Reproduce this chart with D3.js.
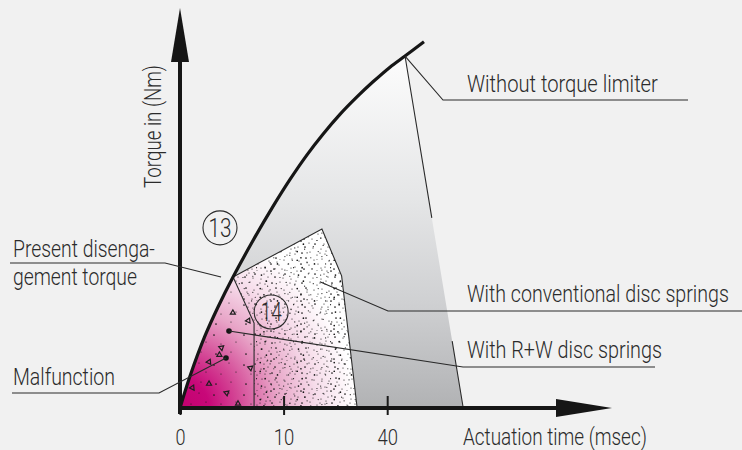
<!DOCTYPE html>
<html>
<head>
<meta charset="utf-8">
<script src="https://cdn.jsdelivr.net/npm/d3@7"></script>
<style>
body { margin: 0; background: #f1f1f1; }
svg { display: block; }
text { font-family: Roboto, "Liberation Sans", sans-serif; font-weight: 300; fill: #2b2b2b; }
</style>
</head>
<body>
<svg></svg>
<script>
let width = 742
let height = 450

// x axis is schematic: ticks are evenly spaced although they read 0, 10, 40
let tickValues = [0, 10, 20]
let tickLabels = ['0', '10', '40']

// torque curve without limiter (x = time units, y = relative torque)
let curvePoints = [
    [0, 0], [0.97, 8.06], [2.41, 18.15], [3.67, 25.45], [5.12, 33.0],
    [7.05, 42.2], [8.98, 50.8], [10.62, 57.6], [12.26, 63.8], [13.8, 69.0],
    [15.44, 74.0], [17.08, 78.4], [18.63, 82.2], [20.27, 85.9], [21.72, 88.7],
    [23.55, 92.3]
]
let meetIndex = 4   // present disengagement torque
let peakIndex = 14  // peak without torque limiter
let limiterBase = [27.34, 0]
let conventionalPoints = [[13.7, 45.1], [15.6, 33.3], [17.1, 0]]
let rwPoints = [[7.15, 21.4], [7.15, 0]]
let markerDots = [[4.73, 19.4], [4.44, 12.6]]
let triangles = [
    [5.1, 24.0], [6.6, 22.0], [4.0, 15.2], [3.8, 13.4], [2.8, 11.6],
    [6.8, 10.1], [2.8, 6.1], [1.2, 5.1], [4.5, 3.8], [5.6, 1.1]
]
let circleLabels = ['13', '14']
let circleCenters = [[3.86, 45.4], [8.8, 24.2]]
let annotationTexts = ['Without torque limiter', 'With conventional disc springs',
    'With R+W disc springs', 'Malfunction', 'Present disenga-|gement torque']
let annotationAnchors = [curvePoints[peakIndex], [13.5, 31.8], markerDots[0], markerDots[1], [3.96, 33.0]]

// speckle texture tile (used at two tile sizes so the repeat is less visible)
let speckle = [[1, 1], [9, 3], [17, 0], [24, 4], [5, 7], [13, 8], [21, 9], [28, 7],
    [2, 13], [10, 12], [17, 15], [25, 14], [6, 18], [14, 20], [22, 19], [29, 21],
    [1, 24], [9, 25], [18, 24], [25, 27], [4, 29], [12, 29], [21, 28], [27, 1],
    [15, 4], [7, 22], [26, 11], [20, 13]]
let sparse = [[4, 5], [19, 3], [11, 14], [26, 12], [6, 24], [21, 22]]

let svg = d3.select('svg')
    .attr('width', width)
    .attr('height', height)

let x = d3.scaleLinear().domain([0, 41.7]).range([180, 612])
let y = d3.scaleLinear().domain([0, 100.8]).range([408, 8])
let px = d => x(d[0]) + ',' + y(d[1])
let line = d3.line()
    .x(d => x(d[0]))
    .y(d => y(d[1]))
    .curve(d3.curveCatmullRom.alpha(0.5))

svg.append('rect').attr('width', width).attr('height', height).attr('fill', '#f1f1f1')

let defs = svg.append('defs')
let grayGrad = defs.append('linearGradient').attr('id', 'gray')
    .attr('gradientUnits', 'userSpaceOnUse')
    .attr('x1', 0).attr('x2', 0).attr('y1', y(88)).attr('y2', y(0))
grayGrad.selectAll('stop')
    .data([[0, '#fcfcfc'], [0.4, '#e5e6e7'], [0.7, '#cfd0d2'], [1, '#b1b2b4']]).enter()
    .append('stop').attr('offset', d => d[0]).attr('stop-color', d => d[1])
let pinkGrad = defs.append('radialGradient').attr('id', 'pink')
    .attr('gradientUnits', 'userSpaceOnUse')
    .attr('cx', x(0)).attr('cy', y(0)).attr('r', 195)
pinkGrad.selectAll('stop')
    .data([[0, '#c2006e'], [0.15, '#c80879'], [0.3, '#d44896'], [0.5, '#e8a4c7'], [0.7, '#f6dcea'], [0.9, '#ffffff']]).enter()
    .append('stop').attr('offset', d => d[0]).attr('stop-color', d => d[1])

function addPattern(id, dots, size) {
    let k = size / 30
    let p = defs.append('pattern').attr('id', id)
        .attr('patternUnits', 'userSpaceOnUse')
        .attr('width', size).attr('height', size)
    p.selectAll('circle').data(dots).enter()
        .append('circle')
        .attr('cx', d => d[0] * k).attr('cy', d => d[1] * k)
        .attr('r', (d, i) => i % 4 === 0 ? 0.85 : 0.6)
        .attr('fill', '#1a1a1a')
}
addPattern('speckleA', speckle, 30)
addPattern('speckleB', speckle, 37)
addPattern('sparse', sparse, 30)

let toMeet = curvePoints.slice(0, meetIndex + 1)
let meet = curvePoints[meetIndex]
let peak = curvePoints[peakIndex]

// region without torque limiter
svg.append('path')
    .attr('d', line(curvePoints.slice(0, peakIndex + 1)) + 'L' + px(limiterBase) + 'Z')
    .attr('fill', 'url(#gray)')

// conventional disc springs region
let convPath = line(toMeet) + 'L' + conventionalPoints.map(px).join('L') + 'Z'
svg.append('path').attr('d', convPath).attr('fill', '#fff')
svg.append('path').attr('d', convPath).attr('fill', 'url(#pink)')
let densePath = 'M' + [meet, ...conventionalPoints, rwPoints[1], rwPoints[0]].map(px).join('L') + 'Z'
svg.append('path').attr('d', densePath).attr('fill', 'url(#speckleA)')
svg.append('path').attr('d', densePath).attr('fill', 'url(#speckleB)')
svg.append('path')
    .attr('d', line(toMeet) + 'L' + rwPoints.map(px).join('L') + 'Z')
    .attr('fill', 'url(#sparse)')

svg.append('g').selectAll('path').data(triangles).enter()
    .append('path')
    .attr('d', d3.symbol().type(d3.symbolTriangle).size(11))
    .attr('transform', (d, i) => `translate(${x(d[0])},${y(d[1])}) rotate(${i % 3 * 25})`)
    .attr('fill', 'none')
    .attr('stroke', '#1e1e1e')
    .attr('stroke-width', 1.2)

// outlines
svg.append('path')
    .attr('d', 'M' + [meet, ...conventionalPoints].map(px).join('L') +
        'M' + [meet, ...rwPoints].map(px).join('L'))
    .attr('fill', 'none').attr('stroke', '#2a2a2a').attr('stroke-width', 1.1)
let edge = d3.interpolate(peak, limiterBase)
svg.append('path')
    .attr('d', 'M' + px(edge(0)) + 'L' + px(edge(0.46)) + 'M' + px(edge(0.81)) + 'L' + px(edge(1)))
    .attr('fill', 'none').attr('stroke', '#2a2a2a').attr('stroke-width', 1.1)

svg.append('path')
    .attr('d', line(curvePoints))
    .attr('fill', 'none').attr('stroke', '#161616').attr('stroke-width', 3.2)

// squeeze a text to a given width, like the condensed face of the original
function squeeze(t, w) {
    let len = t.node().getComputedTextLength()
    return len > 0 ? w / len : 1
}

// axes
let xAxis = d3.axisBottom(x)
    .tickValues(tickValues)
    .tickFormat((d, i) => tickLabels[i])
    .tickSize(0)
let gx = svg.append('g')
    .attr('transform', `translate(0,${y(0)})`)
    .call(xAxis)
    .attr('font-size', 22)
gx.select('.domain').remove()
gx.selectAll('.tick line')
    .attr('y1', (d, i) => i === 0 ? 0 : -12).attr('y2', 7)
    .attr('stroke', '#1a1a1a').attr('stroke-width', 2)
gx.selectAll('.tick text')
    .attr('dy', null).attr('y', 37)
    .each(function (d, i) {
        let t = d3.select(this)
        t.attr('transform', `scale(${squeeze(t, i === 0 ? 10 : 20.5)},1)`)
    })

svg.append('line')
    .attr('x1', x(0) - 2).attr('x2', x.range()[1] - 50)
    .attr('y1', y(0)).attr('y2', y(0))
    .attr('stroke', '#161616').attr('stroke-width', 4)
svg.append('path')
    .attr('d', `M${x.range()[1]},${y(0)}L${x.range()[1] - 56},${y(0) - 9}L${x.range()[1] - 56},${y(0) + 9}Z`)
    .attr('fill', '#161616')
svg.append('line')
    .attr('x1', x(0)).attr('x2', x(0))
    .attr('y1', y(0) + 6).attr('y2', y.range()[1] + 50)
    .attr('stroke', '#161616').attr('stroke-width', 4)
svg.append('path')
    .attr('d', `M${x(0)},${y.range()[1]}L${x(0) - 9},${y.range()[1] + 54}L${x(0) + 9},${y.range()[1] + 54}Z`)
    .attr('fill', '#161616')

let xTitle = svg.append('text')
    .attr('font-size', 23)
    .text('Actuation time (msec)')
xTitle.attr('transform', `translate(463,445) scale(${squeeze(xTitle, 184)},1)`)
let yTitle = svg.append('text')
    .attr('text-anchor', 'middle')
    .attr('font-size', 23)
    .text('Torque in (Nm)')
yTitle.attr('transform', `translate(161,126.5) rotate(-90) scale(${squeeze(yTitle, 123)},1)`)

// circled numbers
let circ = svg.append('g').selectAll('g')
    .data(circleCenters).enter()
    .append('g')
    .attr('transform', d => `translate(${x(d[0])},${y(d[1])})`)
circ.append('circle').attr('r', 17)
    .attr('fill', 'none').attr('stroke', '#2a2a2a').attr('stroke-width', 1.1)
circ.append('text')
    .attr('text-anchor', 'middle').attr('y', 9)
    .attr('font-size', 25)
    .text((d, i) => circleLabels[i])
    .each(function (d, i) {
        let t = d3.select(this)
        t.attr('transform', `scale(${squeeze(t, i === 0 ? 23 : 21)},1)`)
    })

svg.append('g').selectAll('circle')
    .data(markerDots).enter()
    .append('circle')
    .attr('cx', d => x(d[0])).attr('cy', d => y(d[1]))
    .attr('r', 2.8).attr('fill', '#161616')

// annotation layout: elbow, underline end, text start, baseline, text widths
let layout = [
    { elbow: [443, 100], end: 688, tx: 467, ty: 92, w: [191] },
    { elbow: [388, 311], end: 742, tx: 467, ty: 302, w: [262] },
    { elbow: [463, 367], end: 655, tx: 467, ty: 358, w: [195] },
    { elbow: [159, 393], end: 12, tx: 13, ty: 385, w: [102] },
    { elbow: [165, 263], end: 10, tx: 13, ty: 257, w: [142, 124] }
]
annotationTexts.forEach((t, i) => {
    let l = layout[i]
    let a = annotationAnchors[i]
    svg.append('path')
        .attr('d', `M${px(a)}L${l.elbow[0]},${l.elbow[1]}L${l.end},${l.elbow[1]}`)
        .attr('fill', 'none').attr('stroke', '#2a2a2a').attr('stroke-width', 1.1)
    t.split('|').forEach((s, j) => {
        let txt = svg.append('text')
            .attr('font-size', 23.5)
            .text(s)
        txt.attr('transform', `translate(${l.tx},${l.ty + j * 28}) scale(${squeeze(txt, l.w[j])},1)`)
    })
})
</script>
</body>
</html>
